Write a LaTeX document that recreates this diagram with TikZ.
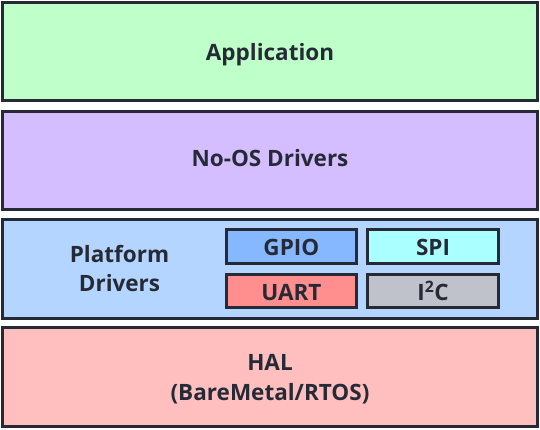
\documentclass[tikz,border=0pt]{standalone}
\usepackage{fontspec}
\setmainfont{Open Sans}
\definecolor{edge}{HTML}{262A36}
\definecolor{appfill}{HTML}{BFFFC9}
\definecolor{noosfill}{HTML}{D4BEFF}
\definecolor{platfill}{HTML}{B4D5FF}
\definecolor{halfill}{HTML}{FFBFBF}
\definecolor{gpiofill}{HTML}{85B8FF}
\definecolor{spifill}{HTML}{AAFFFF}
\definecolor{uartfill}{HTML}{FF8F8F}
\definecolor{iicfill}{HTML}{BFC2CB}
\tikzset{
  layer/.style={draw=edge, line width=3pt, minimum width=535pt, minimum height=98.5pt, inner sep=0pt, outer sep=0pt},
  sub/.style={draw=edge, line width=3pt, minimum width=130.3pt, minimum height=33.7pt, inner sep=0pt, outer sep=0pt},
  lbl/.style={text=edge, font=\fontsize{22.5}{27}\selectfont\bfseries, inner sep=0pt, anchor=base}
}
\begin{document}
\begin{tikzpicture}[x=1pt,y=-1pt]
\useasboundingbox (0,0) rectangle (540,430);
\node[layer, fill=appfill] (app) at (270,51.75) {};
\node[layer, fill=noosfill] (noos) at (270,160.5) {};
\node[layer, fill=platfill] (plat) at (270,269) {};
\node[layer, fill=halfill] (hal) at (270,377) {};
\node[lbl] (applbl) at (270,60.7) {Application};
\node[lbl] (nooslbl) at (270,166.7) {No-OS Drivers};
\node[lbl] (platlbl1) at (119.5,262.7) {Platform};
\node[lbl] (platlbl2) at (119.5,291.7) {Drivers};
\node[lbl] (hallbl1) at (270,370.7) {HAL};
\node[lbl] (hallbl2) at (270,400.7) {(BareMetal/RTOS)};
\node[sub, fill=gpiofill] (gpio) at (291.35,246.65) {};
\node[sub, fill=spifill] (spi) at (433,246.65) {};
\node[sub, fill=uartfill] (uart) at (291.35,290.85) {};
\node[sub, fill=iicfill] (iic) at (433,290.85) {};
\node[lbl] (gpiolbl) at (291.35,255) {GPIO};
\node[lbl] (spilbl) at (433,255) {SPI};
\node[lbl] (uartlbl) at (291.35,300) {UART};
\node[lbl] (iiclbl) at (433,300) {I\textsuperscript{2}C};
\end{tikzpicture}
\end{document}
